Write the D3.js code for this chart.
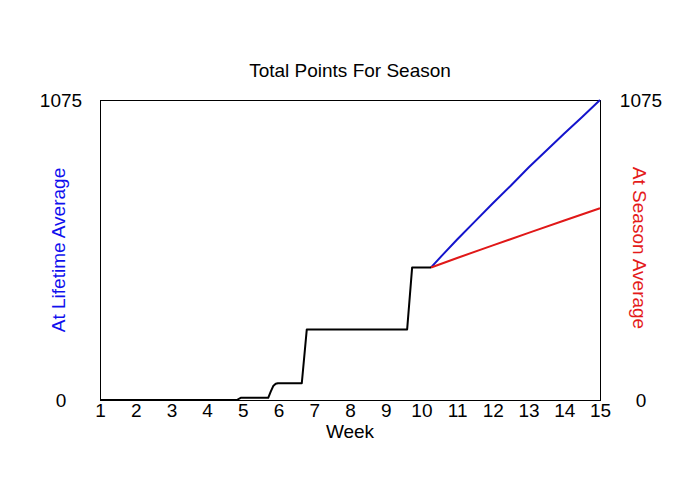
<!DOCTYPE html>
<html>
<head>
<meta charset="utf-8">
<script src="https://cdn.jsdelivr.net/npm/d3@7"></script>
<style>
  body { margin: 0; background: #fff; }
  svg text { font-family: "Liberation Sans", Arial, sans-serif; }
</style>
</head>
<body>
<script>
// week ticks along the bottom
var weekTicks = [1, 2, 3, 4, 5, 6, 7, 8, 9, 10, 11, 12, 13, 14, 15];
var pointTicks = [0, 1075];

// points scored so far (black)
var actualWeeks  = [1, 4.83, 4.94, 5.71, 5.78, 5.85, 5.92, 5.98, 6.65, 6.79, 9.60, 9.74, 10.27];
var actualPoints = [0, 0,    8,    8,    30,   50,   58,   60,   60,   253,  253,  475,  475];

// projection at lifetime average (blue)
var lifetimeWeeks  = [10.27, 10.6, 11, 11.5, 12, 12.5, 13, 13.5, 14, 14.5, 15];
var lifetimePoints = [475, 521, 575, 640, 705, 768, 833, 894, 955, 1014, 1075];

// projection at season average (red)
var seasonWeeks  = [10.27, 11, 12, 13, 14, 15];
var seasonPoints = [475, 509, 554, 599, 643, 687];

(function(){
  var settings = {
    width: 700,
    height: 500,
    left: 100,
    right: 600,
    top: 100,
    bottom: 400,
    fontSize: "19px",
    blue: "#1414cc",
    red: "#e01818"
  };

  var svg = d3.select("body").append("svg")
      .attr("width", settings.width)
      .attr("height", settings.height);

  var x = d3.scaleLinear().domain([1, 15]).range([settings.left, settings.right]);
  var y = d3.scaleLinear().domain([0, 1075]).range([settings.bottom, settings.top]);

  var zip = function(xs, ys) { return xs.map(function(d, i){ return [d, ys[i]]; }); };
  var line = d3.line()
      .x(function(d){ return x(d[0]); })
      .y(function(d){ return y(d[1]); });

  // title
  svg.append("text")
      .attr("x", 350).attr("y", 77)
      .attr("text-anchor", "middle")
      .style("font-size", settings.fontSize)
      .text("Total Points For Season");

  // plot box
  svg.append("rect")
      .attr("x", settings.left + 0.5).attr("y", settings.top + 0.5)
      .attr("width", settings.right - settings.left)
      .attr("height", settings.bottom - settings.top)
      .attr("fill", "none").attr("stroke", "#000").attr("stroke-width", 1);

  // x axis
  var xAxis = svg.append("g")
      .attr("transform", "translate(0," + settings.bottom + ")")
      .call(d3.axisBottom(x).tickValues(weekTicks).tickSize(0).tickPadding(4).tickFormat(d3.format("d")));
  xAxis.select(".domain").remove();
  xAxis.selectAll("text").style("font-size", settings.fontSize).attr("fill", "#000");

  // left y axis
  var yLeft = svg.append("g")
      .attr("transform", "translate(" + settings.left + ",0)")
      .call(d3.axisLeft(y).tickValues(pointTicks).tickSize(0).tickFormat(d3.format("d")));
  yLeft.select(".domain").remove();
  yLeft.selectAll("text").attr("x", -39).attr("text-anchor", "middle")
      .style("font-size", settings.fontSize).attr("fill", "#000");

  // right y axis
  var yRight = svg.append("g")
      .attr("transform", "translate(" + settings.right + ",0)")
      .call(d3.axisRight(y).tickValues(pointTicks).tickSize(0).tickFormat(d3.format("d")));
  yRight.select(".domain").remove();
  yRight.selectAll("text").attr("x", 41).attr("text-anchor", "middle")
      .style("font-size", settings.fontSize).attr("fill", "#000");

  // axis titles
  svg.append("text")
      .attr("x", 350).attr("y", 438)
      .attr("text-anchor", "middle")
      .style("font-size", settings.fontSize)
      .text("Week");

  svg.append("text")
      .attr("transform", "translate(65,250) rotate(-90)")
      .attr("text-anchor", "middle")
      .attr("fill", "#1010ee")
      .style("font-size", settings.fontSize)
      .text("At Lifetime Average");

  svg.append("text")
      .attr("transform", "translate(633,248) rotate(90)")
      .attr("text-anchor", "middle")
      .attr("fill", "#e41a1a")
      .style("font-size", settings.fontSize)
      .text("At Season Average");

  // lines
  svg.append("path")
      .datum(zip(lifetimeWeeks, lifetimePoints))
      .attr("d", line)
      .attr("fill", "none").attr("stroke", settings.blue).attr("stroke-width", 2);

  svg.append("path")
      .datum(zip(seasonWeeks, seasonPoints))
      .attr("d", line)
      .attr("fill", "none").attr("stroke", settings.red).attr("stroke-width", 2);

  svg.append("path")
      .datum(zip(actualWeeks, actualPoints))
      .attr("d", line)
      .attr("fill", "none").attr("stroke", "#000").attr("stroke-width", 2)
      .attr("stroke-linejoin", "round");
})();
</script>
</body>
</html>
